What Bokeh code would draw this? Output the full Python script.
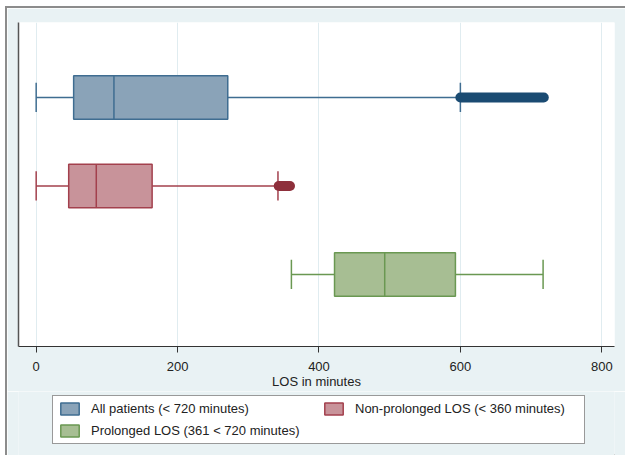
from bokeh.plotting import figure
from bokeh.layouts import column
from bokeh.models import ColumnDataSource, Range1d, FixedTicker, Legend, LegendItem
from bokeh.embed import file_html
from bokeh.resources import INLINE

# ---- data ----
groups = ["All patients (< 720 minutes)",
          "Non-prolonged LOS (< 360 minutes)",
          "Prolonged LOS (361 < 720 minutes)"]
ypos = [1, 2, 3]
lower_whisker = [0, 0, 361]
q1 = [53, 46, 422]
median = [110, 85, 493]
q3 = [271, 164, 593]
upper_whisker = [600, 342, 717]
# outliers (dense run of points drawn as a thick band)
outlier_group = [1, 2]
outlier_min = [600, 343]
outlier_max = [718, 359]
x_ticks = [0, 200, 400, 600, 800]

# ---- styles ----
fills = ["#8aa3b8", "#c8939a", "#a7be93"]
edges = ["#3f6d91", "#a3404d", "#6a9852"]
outlier_colors = ["#1a4b72", "#8e2f3b"]
BG = "#e9f2f4"
FONT = "Liberation Sans"
TXT = "#222222"
BOX_H = 0.49
CAP_H = 0.33

W = 618
p = figure(width=W, height=383, output_backend="svg", toolbar_location=None,
           x_range=Range1d(-25, 818), y_range=Range1d(3.814, 0.153),
           min_border_left=11, min_border_right=11, min_border_top=14,
           min_border_bottom=45)
p.background_fill_color = "white"
p.border_fill_color = BG
p.outline_line_color = None

for i in range(3):
    y = ypos[i]
    src = ColumnDataSource(dict(
        y=[y], q1=[q1[i]], q3=[q3[i]], med=[median[i]],
        lw=[lower_whisker[i]], uw=[upper_whisker[i]],
        ylo=[y - BOX_H / 2], yhi=[y + BOX_H / 2],
        clo=[y - CAP_H / 2], chi=[y + CAP_H / 2]))
    p.segment(x0="lw", y0="y", x1="q1", y1="y", source=src, line_color=edges[i], line_width=1.5)
    p.segment(x0="q3", y0="y", x1="uw", y1="y", source=src, line_color=edges[i], line_width=1.5)
    p.segment(x0="lw", y0="clo", x1="lw", y1="chi", source=src, line_color=edges[i], line_width=1.5)
    p.segment(x0="uw", y0="clo", x1="uw", y1="chi", source=src, line_color=edges[i], line_width=1.5)
    p.hbar(y="y", left="q1", right="q3", height=BOX_H, source=src,
           fill_color=fills[i], line_color=edges[i], line_width=1.5)
    p.segment(x0="med", y0="ylo", x1="med", y1="yhi", source=src, line_color=edges[i], line_width=1.5)

for j in range(len(outlier_group)):
    osrc = ColumnDataSource(dict(x0=[outlier_min[j]], x1=[outlier_max[j]], y=[outlier_group[j]]))
    p.segment(x0="x0", y0="y", x1="x1", y1="y", source=osrc,
              line_color=outlier_colors[j], line_width=10, line_cap="round")

p.xaxis.ticker = FixedTicker(ticks=x_ticks)
p.xaxis.axis_label = "LOS in minutes"
p.xaxis.axis_label_text_font = FONT
p.xaxis.axis_label_text_font_style = "normal"
p.xaxis.axis_label_text_font_size = "13px"
p.xaxis.axis_label_text_color = TXT
p.xaxis.axis_label_standoff = 0
p.xaxis.major_label_text_font = FONT
p.xaxis.major_label_text_font_size = "13px"
p.xaxis.major_label_text_color = TXT
p.xaxis.major_label_standoff = 9
p.xaxis.major_tick_out = 6
p.xaxis.major_tick_in = 0
p.xaxis.minor_tick_line_color = None
p.xaxis.axis_line_color = "#333333"
p.xaxis.major_tick_line_color = "#333333"

p.yaxis.ticker = FixedTicker(ticks=[])
p.yaxis.major_label_text_font_size = "0px"
p.yaxis.major_tick_line_color = None
p.yaxis.minor_tick_line_color = None
p.yaxis.major_label_standoff = 0
p.yaxis.axis_line_color = "#555555"
p.yaxis.axis_line_width = 1.5

p.xgrid.ticker = FixedTicker(ticks=x_ticks)
p.xgrid.grid_line_color = "#e0ecf0"
p.ygrid.grid_line_color = None

# ---- legend strip (swatch renderers kept outside its visible range) ----
q = figure(width=W, height=64, output_backend="svg", toolbar_location=None,
           x_range=Range1d(-2000, -1000), y_range=Range1d(10, 11),
           x_axis_location=None, y_axis_location=None,
           min_border_left=0, min_border_right=0, min_border_top=0, min_border_bottom=0)
q.background_fill_color = BG
q.border_fill_color = BG
q.outline_line_color = None
q.grid.visible = False

items = []
for i in range(3):
    r = q.hbar(y=[ypos[i]], left=[q1[i]], right=[q3[i]], height=BOX_H,
               fill_color=fills[i], line_color=edges[i], line_width=1.5)
    items.append(LegendItem(label=groups[i], renderers=[r]))

legend = Legend(items=[items[0], items[2], items[1]],
                ncols=2, location=(34, 11),
                glyph_width=23, glyph_height=15, label_standoff=10,
                label_text_font=FONT, label_text_font_size="13px",
                label_text_color=TXT, label_height=15,
                padding=5, spacing=7, margin=0, label_width=224,
                border_line_color="#333333", border_line_width=1,
                background_fill_color="white", background_fill_alpha=1)
q.add_layout(legend, "center")

layout = column(p, q, spacing=0,
                styles={"margin-left": "5px", "margin-top": "6px",
                        "border-left": "2px solid #8c8c8c",
                        "border-top": "2px solid #8c8c8c"})

open("out.html", "w").write(file_html(layout, INLINE))
